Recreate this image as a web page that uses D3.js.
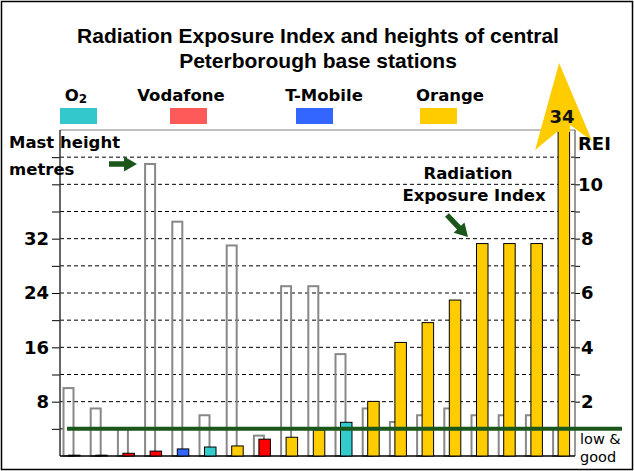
<!DOCTYPE html>
<html><head><meta charset="utf-8">
<script src="https://cdn.jsdelivr.net/npm/d3@7"></script>
<style>body{margin:0;background:#fff}svg{display:block}</style>
</head><body>
<svg id="c" width="634" height="471"></svg>
<script>
// ---- data ----
const stations = d3.range(1, 20).map(String);
const operators = ['O2','O2','Vodafone','Vodafone','T-Mobile','O2','Orange','Vodafone','Orange','Orange','O2','Orange','Orange','Orange','Orange','Orange','Orange','Orange','Orange'];
const mastHeight = [10, 7, 4, 43, 34.5, 6, 31, 3, 25, 25, 15, 7, 5, 6, 7, 6, 6, 6, 4];
const rei = [0.03, 0.03, 0.1, 0.18, 0.26, 0.33, 0.37, 0.62, 0.69, 0.96, 1.24, 2.01, 4.18, 4.91, 5.74, 7.82, 7.82, 7.82, 34];
const legendNames = ['O2', 'Vodafone', 'T-Mobile', 'Orange'];
const leftTicks = [4, 8, 12, 16, 20, 24, 28, 32, 36, 40, 44];
const leftLabels = [8, 16, 24, 32];
const rightTicks = [1, 2, 3, 4, 5, 6, 7, 8, 9, 10, 11];
const rightLabels = [2, 4, 6, 8, 10];
const lowLevel = 1;

// ---- styles ----
const barColor = {'O2':'#33CCCC','Vodafone':'#FF0000','T-Mobile':'#3366FF','Orange':'#FFCC00'};
const legendColor = {'O2':'#33C8CC','Vodafone':'#FF5A5A','T-Mobile':'#3366FF','Orange':'#FFCC00'};
const bold = '"DejaVu Sans", Verdana, sans-serif';
const dkGreen = '#1B561B';

const svg = d3.select('#c');
const L = 60, R = 575, T = 130, B = 456;
const x = d3.scaleBand().domain(stations).range([60, 576.8]).padding(0);
const y = d3.scaleLinear().domain([0, 48]).range([B, T]);
const yr = d3.scaleLinear().domain([0, 12]).range([B, T]);

// border
svg.append('rect').attr('x', 1.5).attr('y', 1.5).attr('width', 631).attr('height', 468)
  .attr('fill', 'none').attr('stroke', '#000').attr('stroke-width', 1.5);

// title
const title = svg.append('text').attr('text-anchor', 'middle')
  .attr('font-family', '"Liberation Sans", Arial, sans-serif').attr('font-weight', 'bold')
  .attr('font-size', 21).attr('fill', '#000');
title.append('tspan').attr('x', 318).attr('y', 43).text('Radiation Exposure Index and heights of central');
title.append('tspan').attr('x', 318).attr('y', 68).text('Peterborough base stations');

// legend
const legendPos = [{tx: 76, rx: 60}, {tx: 181, rx: 170}, {tx: 324, rx: 296}, {tx: 450, rx: 420}];
legendNames.forEach((n, i) => {
  const p = legendPos[i];
  const t = svg.append('text').attr('x', p.tx).attr('y', 101).attr('text-anchor', 'middle')
    .attr('font-family', bold).attr('font-weight', 'bold').attr('font-size', 16.5).attr('fill', '#000');
  if (n === 'O2') {
    t.append('tspan').text('O');
    t.append('tspan').attr('font-size', 12).attr('dy', 2).text('2');
  } else t.text(n);
  svg.append('rect').attr('x', p.rx).attr('y', 108).attr('width', 37).attr('height', 16)
    .attr('fill', legendColor[n]);
});

// grid
svg.append('g').selectAll('line').data(leftTicks).join('line')
  .attr('x1', L).attr('x2', R).attr('y1', d => y(d)).attr('y2', d => y(d))
  .attr('stroke', '#000').attr('stroke-width', 1).attr('stroke-dasharray', '4,3');
svg.append('line').attr('x1', L).attr('x2', R).attr('y1', y(48)).attr('y2', y(48))
  .attr('stroke', '#808080').attr('stroke-width', 1);

// axes
const ax = svg.append('g').attr('transform', `translate(${L},0)`)
  .call(d3.axisLeft(y).tickValues(leftTicks).tickSize(8).tickPadding(3)
    .tickFormat(d => leftLabels.includes(d) ? d : ''));
ax.select('.domain').remove();
ax.selectAll('.tick line').attr('stroke', '#000');
ax.selectAll('text').attr('font-family', bold).attr('font-weight', 'bold').attr('font-size', 18).attr('fill', '#000');
svg.append('line').attr('x1', L).attr('x2', L).attr('y1', T).attr('y2', B).attr('stroke', '#333').attr('stroke-width', 1.5);

const axr = svg.append('g').attr('transform', `translate(${R},0)`)
  .call(d3.axisRight(yr).tickValues(rightTicks).tickSize(5).tickPadding(0)
    .tickFormat(d => rightLabels.includes(d) ? d : ''));
axr.select('.domain').remove();
axr.selectAll('.tick line').attr('stroke', '#000');
axr.selectAll('text').attr('font-family', bold).attr('font-weight', 'bold').attr('font-size', 18).attr('fill', '#000')
  .attr('dx', d => d === 10 ? -2 : 1);
svg.append('line').attr('x1', R).attr('x2', R).attr('y1', T).attr('y2', B).attr('stroke', '#555').attr('stroke-width', 1.2);

// mast height bars (outline)
svg.append('g').selectAll('rect').data(mastHeight).join('rect')
  .attr('x', (d, i) => x(stations[i]) + 3.5).attr('width', 10)
  .attr('y', d => y(d)).attr('height', d => B - y(d))
  .attr('fill', 'none').attr('stroke', '#888').attr('stroke-width', 2);

// baseline
svg.append('line').attr('x1', L).attr('x2', R).attr('y1', B).attr('y2', B).attr('stroke', '#000').attr('stroke-width', 1.5);

// REI bars
svg.append('g').selectAll('rect').data(rei).join('rect')
  .attr('x', (d, i) => x(stations[i]) + 8.5).attr('width', 11.5)
  .attr('y', d => yr(Math.min(d, 12))).attr('height', d => B - yr(Math.min(d, 12)))
  .attr('fill', (d, i) => barColor[operators[i]]).attr('stroke', '#000').attr('stroke-width', 1);

// low & good line
svg.append('line').attr('x1', 67).attr('x2', 622).attr('y1', yr(lowLevel)).attr('y2', yr(lowLevel))
  .attr('stroke', dkGreen).attr('stroke-width', 4);

// arrowhead on the off-scale bar
const last = rei.length - 1;
const x0 = x(stations[last]) + 8.5, y0 = yr(12);
svg.append('path').attr('fill', '#FFCC00')
  .attr('d', `M${x0 + 1},${y0 - 67} L${x0 + 34},${y0 + 11} L${x0 + 12},${y0 - 5} L${x0 + 12},${y0 + 2} L${x0},${y0 + 2} L${x0},${y0 + 1} L${x0 - 23},${y0 + 20} Z`);
svg.append('text').attr('x', x0 + 4).attr('y', 123).attr('text-anchor', 'middle')
  .attr('font-family', bold).attr('font-weight', 'bold').attr('font-size', 18).attr('fill', '#111')
  .text(rei[last]);

// right labels
svg.append('text').attr('x', 578).attr('y', 150).attr('font-family', bold).attr('font-weight', 'bold')
  .attr('font-size', 18).attr('fill', '#000').text('REI');
const lgFont = '"DejaVu Sans", Verdana, sans-serif';
svg.append('text').attr('x', 580).attr('y', 444).attr('font-family', lgFont).attr('font-size', 14.5).attr('fill', '#000').text('low &');
svg.append('text').attr('x', 580).attr('y', 462).attr('font-family', lgFont).attr('font-size', 14.5).attr('fill', '#000').text('good');

// annotations
const ann = (tx, ty, lines, anchor) => {
  const t = svg.append('text').attr('font-family', bold).attr('font-weight', 'bold').attr('font-size', 16.5)
    .attr('fill', '#000').attr('text-anchor', anchor);
  lines.forEach((l, i) => t.append('tspan').attr('x', tx[i]).attr('y', ty[i]).text(l));
};
ann([9, 9], [148, 175], ['Mast height', 'metres'], 'start');
ann([468, 474], [179, 201], ['Radiation', 'Exposure Index'], 'middle');

function arrow(x1, y1, x2, y2) {
  const len = Math.hypot(x2 - x1, y2 - y1), ang = Math.atan2(y2 - y1, x2 - x1) * 180 / Math.PI;
  const h = 13;
  svg.append('path').attr('fill', dkGreen)
    .attr('transform', `translate(${x1},${y1}) rotate(${ang})`)
    .attr('d', `M0,-2.7 L${len - h},-2.7 L${len - h},-7.5 L${len},0 L${len - h},7.5 L${len - h},2.7 L0,2.7 Z`);
}
arrow(109, 164, 137, 164);
arrow(447, 215, 468, 237);
</script>
</body></html>
